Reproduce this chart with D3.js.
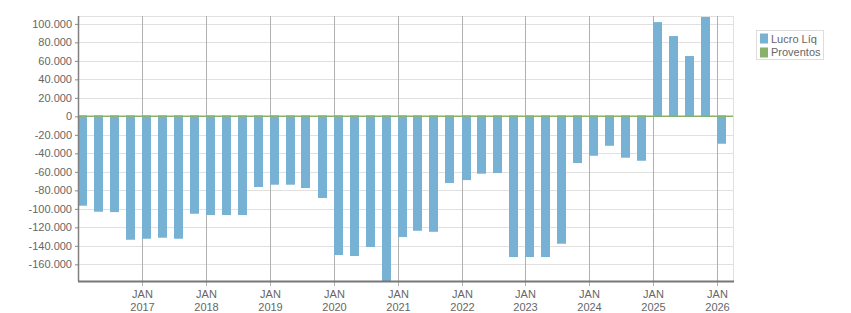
<!DOCTYPE html>
<html>
<head>
<meta charset="utf-8">
<script src="https://cdn.jsdelivr.net/npm/d3@7"></script>
<style>
    body { margin: 0; background: #fff; }
    svg text { font-family: "Liberation Sans", Arial, sans-serif; font-size: 11px; fill: #666; }
</style>
</head>
<body>
<svg id="chart" width="851" height="313"></svg>
<script>
document.addEventListener("DOMContentLoaded", function() {

    // Data (quarterly)
    const quarters = [
        "2016-01-01", "2016-04-01", "2016-07-01", "2016-10-01",
        "2017-01-01", "2017-04-01", "2017-07-01", "2017-10-01",
        "2018-01-01", "2018-04-01", "2018-07-01", "2018-10-01",
        "2019-01-01", "2019-04-01", "2019-07-01", "2019-10-01",
        "2020-01-01", "2020-04-01", "2020-07-01", "2020-10-01",
        "2021-01-01", "2021-04-01", "2021-07-01", "2021-10-01",
        "2022-01-01", "2022-04-01", "2022-07-01", "2022-10-01",
        "2023-01-01", "2023-04-01", "2023-07-01", "2023-10-01",
        "2024-01-01", "2024-04-01", "2024-07-01", "2024-10-01",
        "2025-01-01", "2025-04-01", "2025-07-01", "2025-10-01",
        "2026-01-01"
    ];
    const lucroLiq = [
        -96600, -103100, -103500, -133400,
        -132300, -131200, -132300, -105300,
        -106700, -106700, -106700, -76400,
        -73900, -73900, -77500, -88300,
        -149900, -151000, -141300, -185000,
        -130500, -123700, -124800, -72100,
        -68900, -62000, -61300, -152100,
        -152100, -152100, -137700, -50500,
        -42600, -31800, -44700, -48000,
        101900, 86800, 65200, 107400,
        -29600
    ];
    const proventos = quarters.map(() => 0);
    const yTicks = [-160000, -140000, -120000, -100000, -80000, -60000, -40000, -20000,
                    0, 20000, 40000, 60000, 80000, 100000];
    const xTickYears = [2017, 2018, 2019, 2020, 2021, 2022, 2023, 2024, 2025, 2026];
    const seriesNames = ["Lucro Líq", "Proventos"];
    const seriesColors = ["#77b1d4", "#88b26a"];

    // Display settings
    const plot = { left: 78, right: 733, top: 16, bottom: 281 };
    const barWidth = 9;

    const svg = d3.select("#chart");
    const parse = d3.timeParse("%Y-%m-%d");
    const data = quarters.map((q, i) => ({ date: parse(q), lucro: lucroLiq[i], prov: proventos[i] }));

    const locale = d3.formatLocale({ decimal: ",", thousands: ".", grouping: [3], currency: ["", ""], minus: "-" });
    const fmt = locale.format(",d");

    ////////// Scales //////////
    const x = d3.scaleTime()
        .domain([parse("2016-01-01"), parse("2026-04-01")])
        .range([plot.left, plot.right]);
    const y = d3.scaleLinear()
        .domain([-178000, 108500])
        .range([plot.bottom, plot.top]);

    svg.append("defs").append("clipPath").attr("id", "clip")
        .append("rect")
        .attr("x", plot.left).attr("y", plot.top)
        .attr("width", plot.right - plot.left).attr("height", plot.bottom - plot.top);

    ////////// Grid //////////
    svg.append("g")
        .selectAll("line")
        .data(yTicks)
        .enter().append("line")
        .attr("x1", plot.left).attr("x2", plot.right)
        .attr("y1", d => Math.round(y(d)) + 0.5).attr("y2", d => Math.round(y(d)) + 0.5)
        .attr("stroke", "#e0e0e0");

    // plot frame top/right
    svg.append("line")
        .attr("x1", plot.left).attr("x2", plot.right)
        .attr("y1", plot.top + 0.5).attr("y2", plot.top + 0.5)
        .attr("stroke", "#e0e0e0");
    svg.append("line")
        .attr("x1", plot.right + 0.5).attr("x2", plot.right + 0.5)
        .attr("y1", plot.top).attr("y2", plot.bottom)
        .attr("stroke", "#e0e0e0");

    // vertical year lines
    const yearDates = xTickYears.map(yr => new Date(yr, 0, 1));
    svg.append("g")
        .selectAll("line")
        .data(yearDates)
        .enter().append("line")
        .attr("x1", d => Math.round(x(d)) + 0.5).attr("x2", d => Math.round(x(d)) + 0.5)
        .attr("y1", plot.top).attr("y2", plot.bottom + 5)
        .attr("stroke", "#b0b0b0");

    ////////// Bars //////////
    const bars = svg.append("g").attr("clip-path", "url(#clip)");

    bars.selectAll(".bar")
        .data(data)
        .enter().append("rect")
        .attr("class", "bar")
        .attr("x", d => Math.round(x(d.date)))
        .attr("width", barWidth)
        .attr("y", d => d.lucro >= 0 ? y(d.lucro) : y(0) - 1)
        .attr("height", d => Math.abs(y(d.lucro) - y(0)) + (d.lucro >= 0 ? 0 : 1))
        .attr("fill", seriesColors[0]);

    // Proventos (all zero) drawn along the zero line
    bars.append("line")
        .attr("x1", plot.left).attr("x2", plot.right)
        .attr("y1", y(d3.max(proventos))).attr("y2", y(d3.max(proventos)))
        .attr("stroke", seriesColors[1])
        .attr("stroke-width", 1.5);

    ////////// Axes //////////
    const yAxis = svg.append("g")
        .attr("transform", `translate(${plot.left},0)`)
        .call(d3.axisLeft(y).tickValues(yTicks).tickSize(3).tickPadding(3).tickFormat(fmt));
    yAxis.select(".domain").remove();
    yAxis.selectAll(".tick line").attr("stroke", "#888");
    yAxis.selectAll("text").attr("fill", "#666").style("font-size", "11px");

    svg.append("line")
        .attr("x1", plot.left + 0.5).attr("x2", plot.left + 0.5)
        .attr("y1", plot.top).attr("y2", plot.bottom)
        .attr("stroke", "#808080").attr("stroke-width", 1.5);
    svg.append("line")
        .attr("x1", plot.left).attr("x2", plot.right + 1)
        .attr("y1", plot.bottom + 0.5).attr("y2", plot.bottom + 0.5)
        .attr("stroke", "#777").attr("stroke-width", 2);

    // x labels: JAN / year
    const xLabels = svg.append("g")
        .selectAll("g")
        .data(yearDates)
        .enter().append("g")
        .attr("transform", d => `translate(${Math.round(x(d)) + 0.5},0)`);
    xLabels.append("text")
        .attr("y", 298).attr("text-anchor", "middle")
        .text("JAN");
    xLabels.append("text")
        .attr("y", 311).attr("text-anchor", "middle")
        .text(d => d.getFullYear());

    ////////// Legend //////////
    const legend = svg.append("g").attr("transform", "translate(756,30)");
    legend.append("rect")
        .attr("x", 0.5).attr("y", 0.5)
        .attr("width", 67).attr("height", 29)
        .attr("fill", "#fff").attr("stroke", "#ddd");
    seriesNames.forEach((name, i) => {
        legend.append("rect")
            .attr("x", 4).attr("y", 3.5 + i * 14)
            .attr("width", 8).attr("height", 10)
            .attr("fill", seriesColors[i]);
        legend.append("text")
            .attr("x", 15).attr("y", 13 + i * 13)
            .attr("fill", "#666")
            .text(name);
    });
});
</script>
</body>
</html>
